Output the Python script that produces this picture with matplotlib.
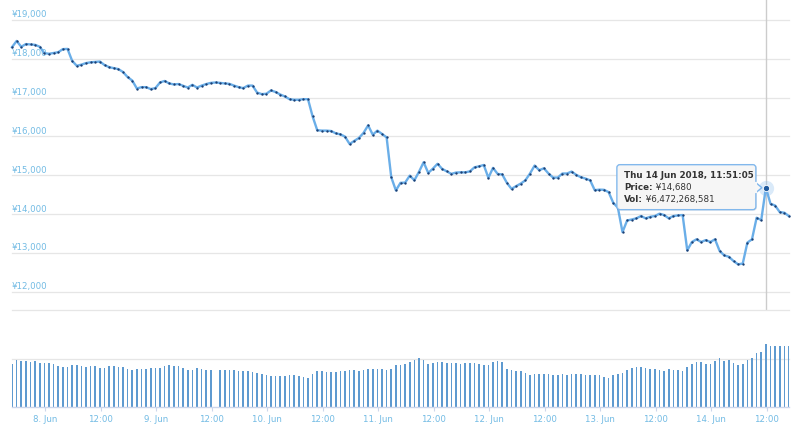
import numpy as np
import pandas as pd
import matplotlib
matplotlib.use('Agg')
import matplotlib.pyplot as plt
import matplotlib.dates as mdates
import matplotlib.transforms as mtransforms
from matplotlib.patches import FancyBboxPatch, Polygon
from matplotlib.lines import Line2D

plt.rcParams['font.family'] = ['DejaVu Sans']

# ---------------- data ----------------
start_time = '2018-06-07 16:51:05'

price = [
    18300, 18460, 18310, 18380, 18370, 18360, 18310, 18145, 18130, 18150,
    18170, 18250, 18255, 17950, 17820, 17850, 17890, 17910, 17920, 17930,
    17840, 17785, 17760, 17735, 17660, 17530, 17440, 17235, 17270, 17270,
    17220, 17245, 17390, 17430, 17365, 17340, 17350, 17305, 17260, 17330,
    17260, 17310, 17350, 17380, 17390, 17380, 17365, 17355, 17310, 17270,
    17245, 17310, 17310, 17130, 17090, 17100, 17185, 17145, 17080, 17030,
    16960, 16945, 16945, 16960, 16960, 16515, 16160, 16150, 16150, 16140,
    16080, 16055, 15995, 15805, 15885, 15960, 16090, 16285, 16045, 16150,
    16065, 15975, 14950, 14610, 14805, 14810, 14990, 14870, 15090, 15335,
    15060, 15170, 15295, 15165, 15100, 15035, 15070, 15075, 15075, 15100,
    15205, 15230, 15265, 14935, 15190, 15035, 15020, 14805, 14650, 14720,
    14785, 14870, 15045, 15250, 15130, 15180, 15045, 14940, 14940, 15045,
    15045, 15095, 15010, 14950, 14915, 14870, 14615, 14630, 14625, 14565,
    14290, 14165, 13535, 13835, 13860, 13890, 13950, 13890, 13930, 13950,
    14010, 13975, 13890, 13950, 13965, 13975, 13065, 13280, 13350, 13280,
    13330, 13280, 13350, 13050, 12935, 12900, 12790, 12705, 12725, 13265,
    13350, 13905, 13845, 14680, 14265, 14220, 14050, 14035, 13945,
]

# volume in billions of yen
volume_bn = [
    4.47, 4.88, 4.78, 4.78, 4.67, 4.78, 4.54, 4.54, 4.54, 4.43,
    4.19, 4.12, 4.12, 4.36, 4.30, 4.23, 4.16, 4.19, 4.19, 3.99,
    4.02, 4.23, 4.19, 4.12, 4.12, 3.92, 3.85, 3.92, 3.92, 3.92,
    3.99, 4.05, 4.05, 4.23, 4.30, 4.23, 4.19, 4.02, 3.85, 3.85,
    3.99, 3.92, 3.85, 3.85, 0.0, 3.78, 3.78, 3.78, 3.85, 3.68,
    3.68, 3.68, 3.57, 3.51, 3.44, 3.33, 3.23, 3.16, 3.16, 3.16,
    3.30, 3.26, 3.20, 3.06, 2.96, 3.37, 3.71, 3.71, 3.57, 3.57,
    3.64, 3.71, 3.71, 3.81, 3.81, 3.71, 3.81, 3.95, 3.88, 3.95,
    3.88, 3.78, 3.95, 4.33, 4.33, 4.43, 4.64, 4.85, 5.02, 4.85,
    4.43, 4.50, 4.64, 4.60, 4.50, 4.50, 4.50, 4.43, 4.50, 4.50,
    4.50, 4.43, 4.33, 4.33, 4.64, 4.74, 4.68, 3.90, 3.83, 3.75,
    3.75, 3.51, 3.33, 3.44, 3.44, 3.44, 3.44, 3.33, 3.33, 3.44,
    3.33, 3.44, 3.44, 3.44, 3.33, 3.33, 3.33, 3.26, 3.06, 2.99,
    3.33, 3.44, 3.51, 3.85, 4.02, 4.09, 4.09, 3.99, 3.92, 3.92,
    3.85, 3.75, 3.92, 3.85, 3.85, 3.68, 4.09, 4.47, 4.61, 4.61,
    4.47, 4.47, 4.71, 5.05, 4.78, 4.88, 4.54, 4.36, 4.47, 4.88,
    5.05, 5.57, 5.67, 6.472268581, 6.32, 6.32, 6.25, 6.25, 6.25,
]

ytick_vals = [12000, 13000, 14000, 15000, 16000, 17000, 18000, 19000]
ytick_labels = ['¥12,000', '¥13,000', '¥14,000', '¥15,000',
                '¥16,000', '¥17,000', '¥18,000', '¥19,000']

xtick_start, xtick_end = '2018-06-08 00:00', '2018-06-14 12:00'
xtick_labels = ['8. Jun', '12:00', '9. Jun', '12:00', '10. Jun', '12:00',
                '11. Jun', '12:00', '12. Jun', '12:00', '13. Jun', '12:00',
                '14. Jun', '12:00']

tooltip_index = 163
tooltip_title = 'Thu 14 Jun 2018, 11:51:05'
tooltip_rows = [('Price:', ' ¥14,680'), ('Vol:', ' ¥6,472,268,581')]

# ---------------- styling ----------------
LINE_C = '#6aaee8'
MARK_C = '#1c3f73'
BAR_C = '#5e9ad0'
GRID_C = '#e6e6e6'
LABEL_C = '#72bbe4'
TEXT_C = '#333333'

W, H = 800, 443
fig = plt.figure(figsize=(W / 100, H / 100), dpi=100)
fig.patch.set_facecolor('white')

ax = fig.add_axes([12 / W, 1 - 291.7 / H, 777 / W, 271.7 / H])
axv = fig.add_axes([12 / W, 1 - 407 / H, 777 / W, 97 / H], sharex=ax)

times = pd.date_range(start_time, periods=len(price), freq='h')
xs = mdates.date2num(times.to_pydatetime())
price_a = np.array(price, dtype=float)
vol_a = np.array(volume_bn, dtype=float) * 1e9

# price panel
ax.set_xlim(xs[0], xs[-1])
ax.set_ylim(12000, 19000)
for s in ax.spines.values():
    s.set_visible(False)
ax.set_yticks([])
ax.tick_params(axis='x', bottom=False, labelbottom=False)
for v, lab in zip(ytick_vals, ytick_labels):
    ax.axhline(v, color=GRID_C, lw=0.9, zorder=0, clip_on=False)
    tr = mtransforms.offset_copy(ax.get_yaxis_transform(), fig=fig, x=0, y=2.5, units='dots')
    ax.text(0.0, v, lab, transform=tr, ha='left', va='baseline',
            fontsize=6.2, color=LABEL_C, zorder=1)

ax.plot(xs, price_a, color=LINE_C, lw=1.7, zorder=2, clip_on=False,
        solid_joinstyle='round')
ax.plot(xs, price_a, 'o', ms=1.7, color=MARK_C, mew=0, zorder=3, clip_on=False)

# volume panel
bar_w = (xs[1] - xs[0]) * 0.33
axv.bar(xs, vol_a, width=bar_w, color=BAR_C, zorder=2, align='center')
axv.set_ylim(0, 10e9)
for s in ['top', 'left', 'right']:
    axv.spines[s].set_visible(False)
axv.spines['bottom'].set_color('#ccd6eb')
axv.spines['bottom'].set_linewidth(1.0)
axv.set_yticks([])
for v in [5e9, 10e9]:
    axv.axhline(v, color=GRID_C, lw=0.9, zorder=0, clip_on=False)

xtick_pos = mdates.date2num(pd.date_range(xtick_start, xtick_end, freq='12h').to_pydatetime())
axv.set_xticks(xtick_pos)
axv.set_xticklabels(xtick_labels)
axv.tick_params(axis='x', length=3, color='#ccd6eb', labelcolor=LABEL_C,
                labelsize=6.2, pad=3)
axv.set_xlim(xs[0], xs[-1])

# crosshair
ti = tooltip_index
ax.axvline(xs[ti], ymin=-0.4244, ymax=1.0736, color='#cccccc', lw=1.0,
           zorder=1, clip_on=False)

# highlighted point
ax.plot([xs[ti]], [price_a[ti]], 'o', ms=11, color='#7cb5ec', alpha=0.28,
        mew=0, zorder=4, clip_on=False)
ax.plot([xs[ti]], [price_a[ti]], 'o', ms=4.5, color='#1f5a9e', mec='white',
        mew=0.6, zorder=5, clip_on=False)

# tooltip (pixel coordinates relative to highlighted point)
px, py = ax.transData.transform((xs[ti], price_a[ti]))
ident = mtransforms.IdentityTransform()
bx0, bx1 = px - 149, px - 10
by0, by1 = py - 22, py + 23
shadow = FancyBboxPatch((bx0 + 1, by0 - 1), bx1 - bx0, by1 - by0,
                        boxstyle='round,pad=0,rounding_size=3',
                        transform=ident, facecolor='black', alpha=0.08,
                        edgecolor='none', zorder=10)
fig.add_artist(shadow)
box = FancyBboxPatch((bx0, by0), bx1 - bx0, by1 - by0,
                     boxstyle='round,pad=0,rounding_size=3',
                     transform=ident, facecolor='#f7f7f7', alpha=0.95,
                     edgecolor='#7cb5ec', lw=1.0, zorder=11)
fig.add_artist(box)
tri = Polygon([[bx1, py + 5], [px - 4, py], [bx1, py - 5]], closed=False,
              transform=ident, facecolor='#f7f7f7', edgecolor='#7cb5ec',
              lw=1.0, zorder=12)
fig.add_artist(tri)
fig.add_artist(Line2D([bx1, bx1], [py - 4.3, py + 4.3], transform=ident,
                      color='#f7f7f7', lw=1.6, zorder=13))

tx = bx0 + 7
fig.text(tx, py + 12, tooltip_title, transform=ident, fontsize=6.3,
         fontweight='bold', color=TEXT_C, va='center', ha='left', zorder=14)
renderer = fig.canvas.get_renderer()
for k, (lab, val) in enumerate(tooltip_rows):
    yy = py - 11.5 * k
    t1 = fig.text(tx, yy, lab, transform=ident, fontsize=6.3,
                  fontweight='bold', color=TEXT_C, va='center', ha='left', zorder=14)
    w = t1.get_window_extent(renderer=renderer).width
    fig.text(tx + w, yy, val, transform=ident, fontsize=6.3,
             color=TEXT_C, va='center', ha='left', zorder=14)

fig.savefig('out.png', dpi=100, facecolor='white')
